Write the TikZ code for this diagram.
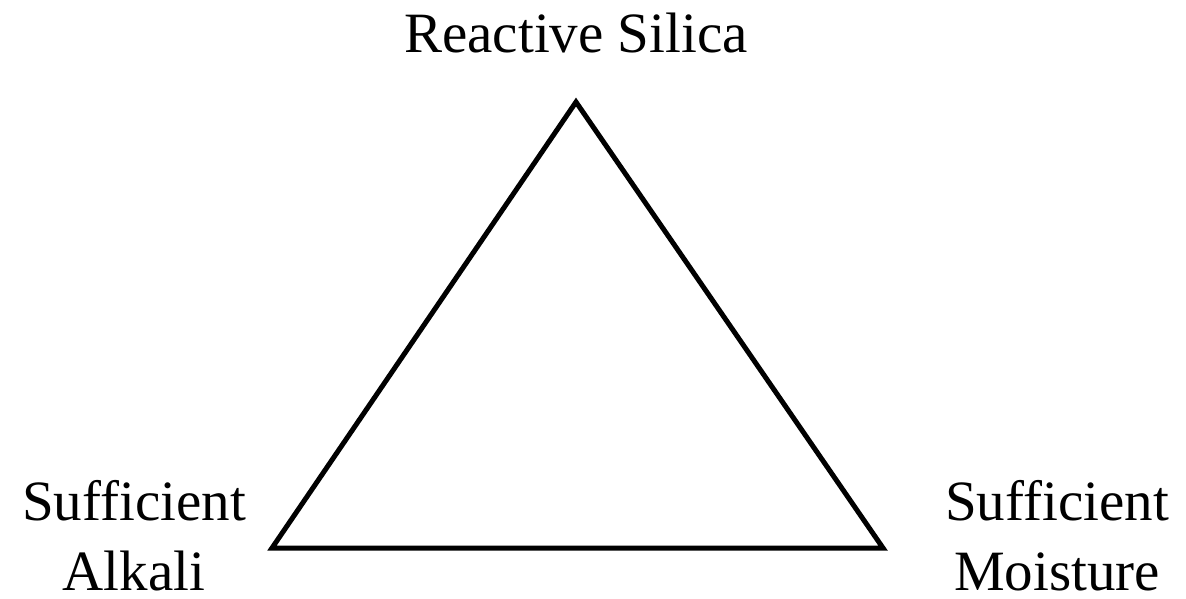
\documentclass[tikz,border=0pt]{standalone}
\usepackage{fontspec}
\setmainfont{Liberation Serif}
\usetikzlibrary{positioning}
\tikzset{
  side/.style={draw=black,line width=5pt,line join=miter},
  lbl/.style={align=center,font=\fontsize{57}{70}\selectfont,inner sep=0pt,anchor=base},
}
\begin{document}
\begin{tikzpicture}[x=1pt,y=1pt]
  \useasboundingbox (0,0) rectangle (1186,598);
  \coordinate (silica) at (576,496);
  \coordinate (alkali) at (272,50);
  \coordinate (moist) at (883,50);
  \draw[side] (silica) -- (alkali) -- (moist) -- cycle;

  \node[lbl] (ltop) at (576,545) {Reactive Silica};
  \node[lbl] (lleft) at (134,8) {Sufficient\\Alkali};
  \node[lbl] (lright) at (1057,8) {Sufficient\\Moisture};
\end{tikzpicture}
\end{document}
